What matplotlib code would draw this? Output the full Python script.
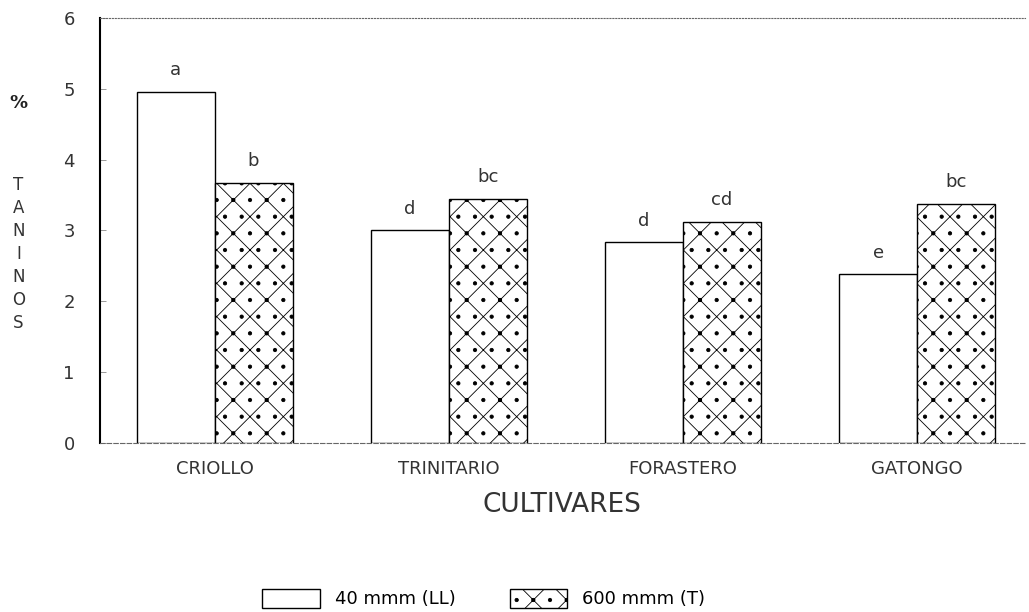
import matplotlib
matplotlib.use("Agg")
import matplotlib.pyplot as plt
import numpy as np
from matplotlib.patches import Patch

plt.rcParams['hatch.linewidth'] = 0.6
plt.rcParams['hatch.color'] = '#555555'

categories = ["CRIOLLO", "TRINITARIO", "FORASTERO", "GATONGO"]
series_names = ["40 mmm (LL)", "600 mmm (T)"]
values_ll = [4.95, 3.0, 2.83, 2.38]
values_t = [3.67, 3.45, 3.12, 3.37]
letters_ll = ["a", "d", "d", "e"]
letters_t = ["b", "bc", "cd", "bc"]
yticks = [0, 1, 2, 3, 4, 5, 6]

fig = plt.figure(figsize=(10.29, 6.12), dpi=100)
ax = fig.add_axes([0.097, 0.276, 0.899, 0.695])

x = np.arange(len(categories))
w = 0.333
ax.bar(x - w / 2, values_ll, w, color='white', edgecolor='black', linewidth=1.0)
ax.bar(x + w / 2, values_t, w, color='white', edgecolor='black', linewidth=1.0, hatch='x.')

for xi, v, t in zip(x - w / 2, values_ll, letters_ll):
    ax.text(xi, v + 0.18, t, ha='center', va='bottom', fontsize=13, color='#333333')
for xi, v, t in zip(x + w / 2, values_t, letters_t):
    ax.text(xi, v + 0.18, t, ha='center', va='bottom', fontsize=13, color='#333333')

ax.set_xlim(-0.49, 3.46)
ax.set_ylim(0, 6)
ax.set_yticks(yticks)
ax.set_yticklabels([str(t) for t in yticks], fontsize=13, color='#333333')
ax.set_xticks(x)
ax.set_xticklabels(categories, fontsize=13, color='#333333')
ax.tick_params(axis='x', length=0, pad=12)
ax.tick_params(axis='y', direction='in', length=4, width=0.6, colors='#888888', labelcolor='#333333', pad=18)

ax.spines['right'].set_visible(False)
ax.spines['left'].set_linewidth(1.5)
ax.spines['top'].set_linestyle(':')
ax.spines['top'].set_color('#666666')
ax.spines['bottom'].set_linestyle((0, (4, 2)))
ax.spines['bottom'].set_color('#666666')

ax.set_xlabel("CULTIVARES", fontsize=19, color='#333333', labelpad=10)

fig.text(0.018, 0.832, "%", fontsize=13, ha='center', va='center', color='#222222', fontweight='bold')
fig.text(0.018, 0.585, "T\nA\nN\nI\nN\nO\nS", fontsize=12, ha='center', va='center',
         color='#333333', linespacing=1.35)

handles = [Patch(facecolor='white', edgecolor='black', label=series_names[0]),
           Patch(facecolor='white', edgecolor='black', hatch='x.', label=series_names[1])]
fig.legend(handles=handles, loc='center', bbox_to_anchor=(0.47, 0.022), ncol=2, frameon=False,
           fontsize=13, handlelength=3.2, handleheight=1.3, columnspacing=3.0, borderaxespad=0)

fig.savefig("out.png", dpi=100)
